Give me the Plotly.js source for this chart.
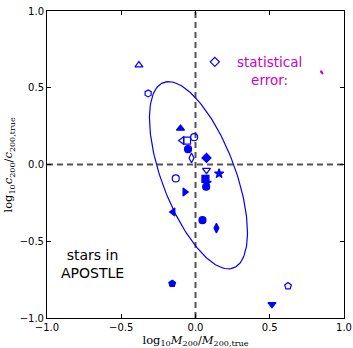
<!DOCTYPE html>
<html>
<head>
<meta charset="utf-8">
<script src="https://cdn.plot.ly/plotly-3.0.1.min.js"></script>
<style>html,body{margin:0;padding:0;background:#fff;}#chart{width:353px;height:348px;}</style>
</head>
<body>
<div id="chart"></div>
<script>
// halo measurements: log10(M200/M200,true) and log10(c200/c200,true)
var xVals = [-0.381, 0.130, -0.319, -0.101, -0.090, -0.057, -0.009, -0.050, -0.027, 0.074, 0.074, 0.159, 0.067, 0.075, 0.072, -0.133, -0.072, -0.151, 0.047, 0.141, -0.157, 0.623, 0.515];
var yVals = [0.648, 0.669, 0.463, 0.235, 0.156, 0.156, 0.178, 0.100, 0.043, 0.043, -0.037, -0.059, -0.093, -0.120, -0.145, -0.091, -0.179, -0.309, -0.363, -0.414, -0.776, -0.792, -0.911];
var symbols = ['triangle-up-open', 'diamond-open', 'hexagon-open', 'triangle-up', 'triangle-left-open', 'square-open', 'circle-open', 'circle', 'diamond-tall-open', 'diamond', 'triangle-down-open', 'star', 'square', 'star', 'circle', 'circle-open', 'triangle-right', 'triangle-left', 'circle', 'diamond-tall', 'pentagon', 'pentagon-open', 'triangle-down'];

// scatter ellipse (center, half-extents, correlation)
var ellCenter = [0.02, -0.07];
var ellRadii = [0.33, 0.61];
var ellRho = -0.61;
// statistical error ellipse
var errCenter = [0.85, 0.60];
var errRadii = [0.008, 0.012];
var errRho = -0.6;

function ellipse(c, r, rho) {
  var xs = [], ys = [], n = 200, s = Math.sqrt(1 - rho * rho);
  for (var i = 0; i <= n; i++) {
    var t = 2 * Math.PI * i / n;
    xs.push(c[0] + r[0] * Math.cos(t));
    ys.push(c[1] + r[1] * (rho * Math.cos(t) + s * Math.sin(t)));
  }
  return {x: xs, y: ys};
}

var e1 = ellipse(ellCenter, ellRadii, ellRho);
var e2 = ellipse(errCenter, errRadii, errRho);
var blue = '#0000ff';
var mag = '#c800c8';

var traces = [
  {x: e1.x, y: e1.y, mode: 'lines', line: {color: blue, width: 1.2}, hoverinfo: 'skip', showlegend: false},
  {x: e2.x, y: e2.y, mode: 'lines', fill: 'toself', fillcolor: mag, line: {color: mag, width: 1}, hoverinfo: 'skip', showlegend: false},
  {x: xVals, y: yVals, mode: 'markers', showlegend: false,
   marker: {symbol: symbols, size: 7, color: blue, line: {color: blue, width: 1.2}}}
];

var serif = 'DejaVu Serif, Liberation Serif, serif';
var layout = {
  width: 353, height: 348,
  margin: {l: 47, r: 8.5, t: 11, b: 30.3},
  paper_bgcolor: '#fff', plot_bgcolor: '#fff',
  font: {family: 'DejaVu Sans, sans-serif', color: '#000', size: 10},
  xaxis: {range: [-1, 1], tickvals: [-1, -0.5, 0, 0.5, 1], ticktext: ['\u22121.0', '\u22120.5', '0.0', '0.5', '1.0'],
          ticks: 'inside', ticklen: 4, tickwidth: 1, tickcolor: '#000', mirror: 'allticks',
          showline: true, linecolor: '#000', linewidth: 1, showgrid: false, zeroline: false,
          tickfont: {size: 10, color: '#000'}, automargin: false,
          title: {text: 'log<sub>10</sub><i>M</i><sub>200</sub>/<i>M</i><sub>200,true</sub>', font: {family: serif, size: 11.5, color: '#000'}, standoff: 1}},
  yaxis: {range: [-1, 1], tickvals: [-1, -0.5, 0, 0.5, 1], ticktext: ['\u22121.0', '\u22120.5', '0.0', '0.5', '1.0'],
          ticks: 'inside', ticklen: 4, tickwidth: 1, tickcolor: '#000', mirror: 'allticks',
          showline: true, linecolor: '#000', linewidth: 1, showgrid: false, zeroline: false,
          tickfont: {size: 10, color: '#000'}},
  shapes: [
    {type: 'line', xref: 'x', yref: 'paper', x0: 0, x1: 0, y0: 0, y1: 1, line: {color: '#555', width: 2, dash: '6px,4px'}, layer: 'below'},
    {type: 'line', xref: 'paper', yref: 'y', x0: 0, x1: 1, y0: 0, y1: 0, line: {color: '#555', width: 2, dash: '6px,4px'}, layer: 'below'}
  ],
  annotations: [
    {xref: 'x', yref: 'y', x: 0.5, y: 0.609, text: 'statistical<br>error:', showarrow: false, font: {size: 13.5, color: mag}, align: 'center'},
    {xref: 'x', yref: 'y', x: -0.697, y: -0.650, text: 'stars in<br>APOSTLE', showarrow: false, font: {size: 14, color: '#000'}, align: 'center'},
    {xref: 'paper', yref: 'paper', x: -0.128, y: 0.5, xanchor: 'center', text: 'log<sub>10</sub><i>c</i><sub>200</sub>/<i>c</i><sub>200,true</sub>', textangle: -90, showarrow: false, font: {family: serif, size: 11.5, color: '#000'}}
  ]
};

Plotly.newPlot('chart', traces, layout, {staticPlot: true, displayModeBar: false});
</script>
</body>
</html>
